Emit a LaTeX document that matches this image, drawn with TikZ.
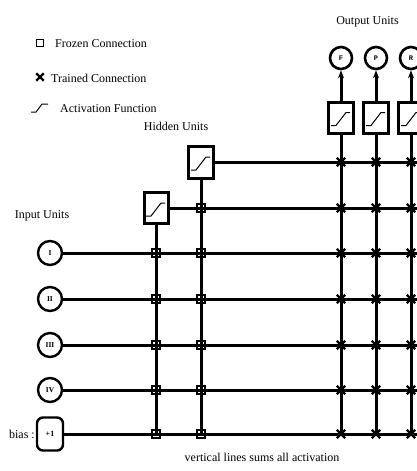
\documentclass[tikz,border=0pt]{standalone}
\usepackage{fontspec}
\setmainfont{Liberation Serif}
\newfontfamily\monofont{Liberation Mono}
\usetikzlibrary{arrows.meta,shapes.misc}
\begin{document}
\begin{tikzpicture}[x=1pt,y=-1pt,
  wire/.style={line width=3pt},
  lbl/.style={inner sep=0pt,font=\fontsize{12}{12}\selectfont},
  unit/.style={circle,draw,line width=2.4pt,minimum size=24pt,inner sep=0pt,font=\fontsize{7.5}{7.5}\selectfont\bfseries},
  biasunit/.style={rectangle,rounded corners=6pt,draw,line width=2.4pt,minimum width=26pt,minimum height=33pt,inner sep=0pt,font=\fontsize{8}{8}\selectfont\bfseries},
  outunit/.style={circle,draw,line width=2.6pt,minimum size=22pt,inner sep=0pt,font=\fontsize{7}{7}\selectfont\monofont\bfseries},
  actbox/.style={rectangle,draw,line width=3pt,minimum width=24pt,minimum height=31pt,inner sep=0pt},
  frozen/.style={rectangle,draw,line width=1.3pt,minimum size=8pt,inner sep=0pt},
  frozenb/.style={rectangle,draw,line width=2.2pt,minimum size=7.5pt,inner sep=0pt},
  trained/.style={cross out,draw,line width=2.4pt,minimum size=6pt,inner sep=0pt},
  sig/.style={line width=1pt},
  arr/.style={line width=3pt,-{Stealth[length=8pt,width=6pt]}}
]
\useasboundingbox (0,0) rectangle (417,471);

% legend
\node[rectangle,draw,line width=1.8pt,minimum size=7pt,inner sep=0pt] (lgf) at (40,43) {};
\node[lbl,anchor=west] (lgft) at (55,44) {Frozen Connection};
\node[cross out,draw,line width=2.4pt,minimum size=5pt,inner sep=0pt] (lgt) at (40,77) {};
\node[lbl,anchor=west] (lgtt) at (51,78) {Trained Connection};
\draw[sig] (31,112) -- (36,112) -- (42,104) -- (48,104);
\node[lbl,anchor=west] (lgat) at (60,109) {Activation Function};

% labels
\node[lbl] (tin) at (42,216) {Input Units};
\node[lbl] (thid) at (176,126) {Hidden Units};
\node[lbl] (tout) at (367.5,22) {Output Units};
\node[lbl] (tbot) at (262,457) {vertical lines sums all activation};
\node[lbl,anchor=east] (tbias) at (35,434) {bias :};

% input units
\node[unit] (i1) at (50,253) {I};
\node[unit] (i2) at (50,299) {II};
\node[unit] (i3) at (50,345) {III};
\node[unit] (i4) at (50,390) {IV};
\node[biasunit] (i5) at (50,434) {+1};

% hidden units
\node[actbox] (h1) at (156,208) {};
\node[actbox,minimum width=25pt,minimum height=32pt] (h2) at (201,162) {};
\draw[sig] ([shift={(-10,8)}]h1.center) -- ++(5,0) -- ++(10,-13) -- ++(4,0);
\draw[sig] ([shift={(-10,8)}]h2.center) -- ++(5,0) -- ++(10,-13) -- ++(4,0);

% output units
\foreach \n/\x/\t in {1/341/F,2/376/P,3/411/R}{
  \node[actbox,minimum width=25pt] (o\n) at (\x,117.5) {};
  \draw[sig] ([shift={(-10,8)}]o\n.center) -- ++(5,0) -- ++(10,-13) -- ++(4,0);
  \node[outunit] (y\n) at (\x,58) {\t};
  \draw[arr] (o\n.north) -- (y\n.south);
  \coordinate (w\n) at (\x,435);
  \draw[wire] (o\n.south) -- (w\n);
}

% horizontal wires
\coordinate (e1) at (425,253);
\coordinate (e2) at (425,299);
\coordinate (e3) at (425,345);
\coordinate (e4) at (425,390);
\coordinate (e5) at (425,434);
\coordinate (eh1) at (425,208);
\coordinate (eh2) at (425,162);
\foreach \n in {1,...,5}{\draw[wire] (i\n.east) -- (e\n);}
\draw[wire] (h1.east) -- (eh1);
\draw[wire] (h2.east) -- (eh2);

% vertical wires of hidden units
\coordinate (v1) at (156,435);
\coordinate (v2) at (201,435);
\draw[wire] (h1.south) -- (v1);
\draw[wire] (h2.south) -- (v2);

% frozen connections
\foreach \y in {253,299,345,390,434}{
  \node[frozen] at (156,\y) {};
  \node[frozenb] at (201,\y) {};
}
\node[frozenb] at (201,208) {};

% trained connections
\foreach \x in {341,376,411}{
  \foreach \y in {162,208,253,299,345,390,434}{
    \node[trained] at (\x,\y) {};
  }
}
\end{tikzpicture}
\end{document}
